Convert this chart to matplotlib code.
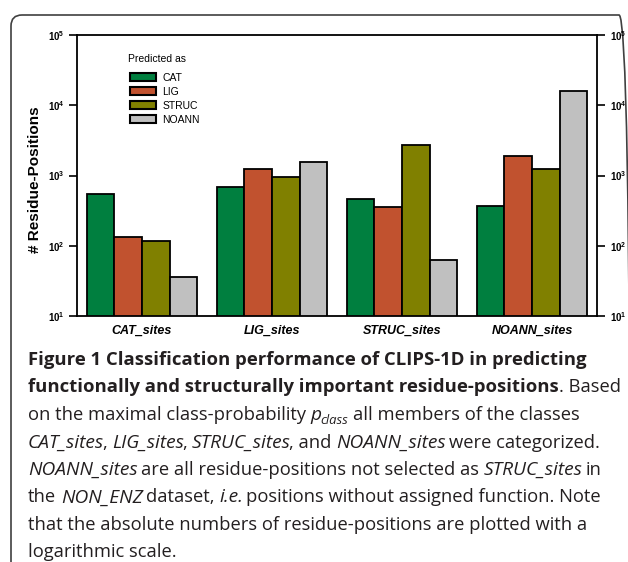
import numpy as np
import matplotlib
matplotlib.use("Agg")
import matplotlib.pyplot as plt
from matplotlib.patches import Patch, FancyBboxPatch
from matplotlib.ticker import FixedLocator, FixedFormatter, NullLocator
from matplotlib.font_manager import FontProperties

plt.rcParams['font.family'] = ['Liberation Sans', 'DejaVu Sans']
plt.rcParams['mathtext.fontset'] = 'custom'
plt.rcParams['mathtext.rm'] = 'Liberation Sans'
plt.rcParams['mathtext.bf'] = 'Liberation Sans:bold'
plt.rcParams['mathtext.it'] = 'Liberation Sans:italic'

# ---------------- data ----------------
groups = ["CAT_sites", "LIG_sites", "STRUC_sites", "NOANN_sites"]
series_names = ["CAT", "LIG", "STRUC", "NOANN"]
cat_vals = [546, 679, 468, 372]
lig_vals = [135, 1225, 360, 1900]
struc_vals = [118, 942, 2750, 1240]
noann_vals = [35.5, 1556, 62, 15800]
colors = ["#007F3F", "#C1522F", "#808000", "#C0C0C0"]
ytick_vals = [1e1, 1e2, 1e3, 1e4, 1e5]
ytick_labels = [r"$\mathbf{10^{1}}$", r"$\mathbf{10^{2}}$", r"$\mathbf{10^{3}}$",
                r"$\mathbf{10^{4}}$", r"$\mathbf{10^{5}}$"]

W, H = 628, 562
fig = plt.figure(figsize=(W / 100, H / 100), dpi=100)

# frame (top and left edges visible; right edge just outside the canvas)
frame = FancyBboxPatch((0.11, -0.5), 6.19, 5.97,
                       boxstyle="round,pad=0,rounding_size=0.11",
                       transform=fig.dpi_scale_trans, facecolor='none',
                       edgecolor='#404040', linewidth=1.2, zorder=0)
fig.add_artist(frame)

ax_l, ax_r, ax_t, ax_b = 77, 597, 35, 316
ax = fig.add_axes([ax_l / W, 1 - ax_b / H, (ax_r - ax_l) / W, (ax_b - ax_t) / H])

x = np.arange(len(groups))
w = 0.2127
all_vals = [cat_vals, lig_vals, struc_vals, noann_vals]
for i, (name, vals, c) in enumerate(zip(series_names, all_vals, colors)):
    ax.bar(x + (i - 1.5) * w, vals, width=w, color=c, edgecolor='black',
           linewidth=1.3, label=name, zorder=2)

ax.set_yscale('log')
ax.set_ylim(10, 1e5)
ax.set_xlim(-0.5, 3.5)
ax.yaxis.set_major_locator(FixedLocator(ytick_vals))
ax.yaxis.set_major_formatter(FixedFormatter(ytick_labels))
ax.yaxis.set_minor_locator(NullLocator())
ax.tick_params(axis='y', which='major', direction='out', length=6, width=1.2,
               left=True, right=True, labelleft=True, labelright=True,
               labelsize=7, pad=2)
ax.tick_params(axis='y', which='major', right=True, pad=3)
ax.set_xticks(x)
ax.set_xticklabels(groups, fontsize=9, fontweight='bold', fontstyle='italic')
ax.tick_params(axis='x', length=0, pad=6)
for s in ax.spines.values():
    s.set_linewidth(1.3)

ax.set_ylabel("# Residue-Positions", fontsize=11, fontweight='bold', va='center')
ax.yaxis.set_label_coords((35 - ax_l) / (ax_r - ax_l), (ax_b - 180) / (ax_b - ax_t))

handles = [Patch(facecolor=c, edgecolor='black', linewidth=1.5) for c in colors]
ax.legend(handles, series_names, loc='upper left',
          bbox_to_anchor=((130 - ax_l) / (ax_r - ax_l), (ax_b - 73) / (ax_b - ax_t)),
          frameon=False, fontsize=7.5, handlelength=2.5,
          handleheight=0.77, handletextpad=0.58, labelspacing=0.37,
          borderpad=0, borderaxespad=0)
ax.text((128 - ax_l) / (ax_r - ax_l), (ax_b - 59) / (ax_b - ax_t), "Predicted as",
        transform=ax.transAxes, fontsize=7.5, ha='left', va='center')

# ---------------- caption ----------------
cap_color = '#231f20'
FAM = 'Open Sans'
SIZES = {'b': 13.3, 'r': 13.2, 'i': 13.8, 'sub': 9.4}
renderer = fig.canvas.get_renderer()


def props(kind):
    weight = 'bold' if kind == 'b' else 'normal'
    style = 'italic' if kind in ('i', 'sub') else 'normal'
    return FontProperties(family=FAM, weight=weight, style=style, size=SIZES[kind])


def ink_w(s, fp):
    return renderer.get_text_width_height_descent(s, fp, ismath=False)[0]


def advance(text, kind):
    fp = props(kind)
    return ink_w("|" + text + "|", fp) - ink_w("||", fp)


def draw_line(y_px, segs, x0=28):
    xp = x0
    prev = None
    for text, kind, sp in segs:
        if sp:
            xp += advance(" ", 'r')
        if prev == 'i' and kind != 'i':
            xp -= 1.5
        dy = 3.5 if kind == 'sub' else 0
        fig.text(xp / W, 1 - (y_px + dy) / H, text, va='baseline', ha='left',
                 color=cap_color, fontproperties=props(kind))
        xp += advance(text, kind)
        prev = kind


lines = [
    [("Figure 1 Classification performance of CLIPS-1D in predicting", 'b', False)],
    [("functionally and structurally important residue-positions", 'b', False),
     (". Based", 'r', False)],
    [("on the maximal class-probability", 'r', False), ("p", 'i', True),
     ("class", 'sub', False), ("all members of the classes", 'r', True)],
    [("CAT_sites", 'i', False), (",", 'r', False), ("LIG_sites", 'i', True),
     (",", 'r', False), ("STRUC_sites", 'i', True), (", and", 'r', False),
     ("NOANN_sites", 'i', True), ("were categorized.", 'r', True)],
    [("NOANN_sites", 'i', False), ("are all residue-positions not selected as", 'r', True),
     ("STRUC_sites", 'i', True), ("in", 'r', True)],
    [("the", 'r', False), ("NON_ENZ", 'i', True), ("dataset,", 'r', True),
     ("i.e.", 'i', True), ("positions without assigned function. Note", 'r', True)],
    [("that the absolute numbers of residue-positions are plotted with a", 'r', False)],
    [("logarithmic scale.", 'r', False)],
]
baselines = [365, 392.5, 420, 447.5, 475, 502.5, 530, 557]
for yb, segs in zip(baselines, lines):
    draw_line(yb, segs)

fig.savefig("out.png", dpi=100)
